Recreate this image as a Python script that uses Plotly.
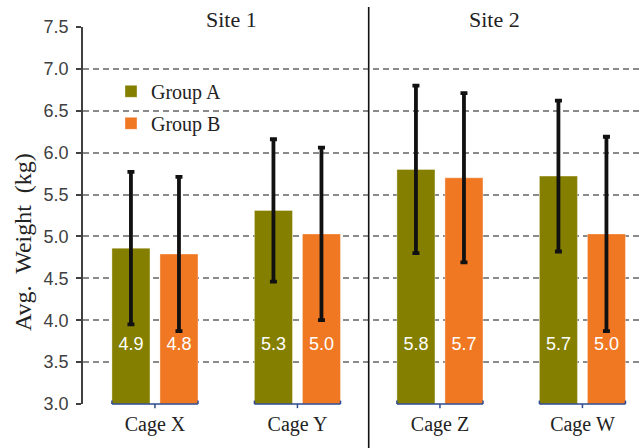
import plotly.graph_objects as go

# Data
cages = ["Cage X", "Cage Y", "Cage Z", "Cage W"]
sites = ["Site 1", "Site 2"]
group_a = [4.86, 5.31, 5.80, 5.72]
group_b = [4.79, 5.03, 5.70, 5.03]
err_a = [0.91, 0.85, 1.00, 0.90]
err_b = [0.92, 1.03, 1.01, 1.16]
y_ticks = [3.0, 3.5, 4.0, 4.5, 5.0, 5.5, 6.0, 6.5, 7.0, 7.5]

GREEN = "#857F00"
ORANGE = "#F07823"
SERIF = "Liberation Serif, Times New Roman, serif"
SANS = "Liberation Sans, Arial, sans-serif"

xpos = list(range(len(cages)))
BAR_W = 0.267
OFF_A = -0.302
OFF_B = 0.035
LABEL_Y = 3.70

fig = go.Figure()

for name, vals, errs, color, off, grp in [
    ("Group A", group_a, err_a, GREEN, OFF_A, "a"),
    ("Group B", group_b, err_b, ORANGE, OFF_B, "b"),
]:
    fig.add_trace(go.Bar(
        x=xpos, y=[v - 3.0 for v in vals], base=3.0,
        width=BAR_W, offset=off, name=name, legendgroup=grp,
        marker=dict(color=color, line=dict(color="rgba(255,255,255,0.45)", width=0.8)),
        error_y=dict(type="data", array=errs, color="#111111", thickness=3.8, width=3.5),
        hoverinfo="skip",
    ))
    # value labels near the bar base
    fig.add_trace(go.Scatter(
        x=[p + off + BAR_W / 2 for p in xpos], y=[LABEL_Y] * len(vals),
        mode="text", text=[f"{v:.1f}" for v in vals],
        textfont=dict(family=SANS, size=18, color="white"),
        showlegend=False, hoverinfo="skip", cliponaxis=False,
    ))

shapes = []
# brackets under each cage group
for p in xpos:
    left, right = p + OFF_A, p + OFF_B + BAR_W
    line = dict(color="#2E4A8C", width=1.5)
    shapes.append(dict(type="line", xref="x", yref="paper", x0=left, x1=right, y0=0, y1=0, line=line))
    shapes.append(dict(type="line", xref="x", yref="paper", x0=left, x1=left, y0=0, y1=0.009, line=line))
    shapes.append(dict(type="line", xref="x", yref="paper", x0=right, x1=right, y0=0, y1=0.009, line=line))
    shapes.append(dict(type="line", xref="x", yref="paper", x0=p, x1=p, y0=0, y1=-0.011, line=line))
# site divider
shapes.append(dict(type="line", xref="x", yref="paper", x0=1.5, x1=1.5, y0=-0.13, y1=1.053,
                   line=dict(color="#111111", width=1.6)))

annotations = [
    dict(text=sites[0], x=0.54, y=1.019, xref="x", yref="paper", showarrow=False,
         xanchor="center", yanchor="middle", font=dict(family=SERIF, size=22, color="#222222")),
    dict(text=sites[1], x=2.386, y=1.021, xref="x", yref="paper", showarrow=False,
         xanchor="center", yanchor="middle", font=dict(family=SERIF, size=22, color="#222222")),
    dict(text="Avg.\u00a0 Weight\u00a0 (kg)", x=-0.107, y=0.43, xref="paper", yref="paper",
         showarrow=False, textangle=-90, xanchor="center", yanchor="middle",
         font=dict(family=SERIF, size=24, color="#222222")),
]

fig.update_layout(
    width=643, height=448,
    margin=dict(l=83, r=0, t=27, b=44),
    paper_bgcolor="white", plot_bgcolor="white",
    barmode="overlay",
    shapes=shapes, annotations=annotations,
    legend=dict(x=0.05, y=0.881, xanchor="left", yanchor="top",
                font=dict(family=SERIF, size=20, color="#222222"),
                bgcolor="rgba(0,0,0,0)", tracegroupgap=3, itemwidth=30),
    xaxis=dict(range=[-0.505, 3.425], tickvals=xpos, ticktext=cages,
               showgrid=False, zeroline=False, showline=False, ticks="",
               tickfont=dict(family=SERIF, size=20, color="#222222"), ticklabelstandoff=6),
    yaxis=dict(range=[3.0, 7.5], tickvals=y_ticks, tickformat=".1f",
               showline=True, linecolor="#404040", linewidth=1.5,
               ticks="outside", ticklen=5, tickwidth=1.5, tickcolor="#404040",
               showgrid=True, gridcolor="#8a8a8a", gridwidth=1.5, griddash="6px,4px",
               zeroline=False, ticklabelstandoff=4,
               tickfont=dict(family=SANS, size=18, color="#404040")),
)

fig.write_html("out.html")
